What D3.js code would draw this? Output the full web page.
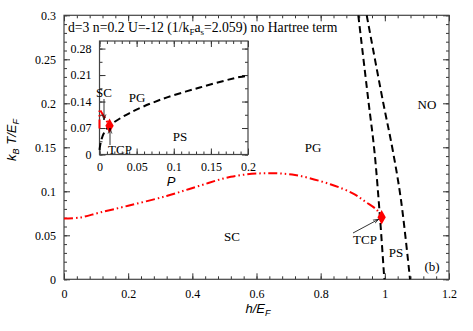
<!DOCTYPE html>
<html>
<head>
<meta charset="utf-8">
<script src="https://cdn.jsdelivr.net/npm/d3@7"></script>
<style>
  body { margin: 0; background: #fff; }
</style>
</head>
<body>
<div id="chart"></div>
<script>
// main panel: T_c(h) of the superfluid (red) and the PS borders (black dashed)
const tcH = [0, 0.05, 0.11, 0.2, 0.32, 0.42, 0.52, 0.62, 0.72, 0.83, 0.9, 0.94, 0.975, 0.99];
const tcT = [0.069, 0.0702, 0.0757, 0.0836, 0.0947, 0.106, 0.1165, 0.1205, 0.1185, 0.108, 0.0977, 0.088, 0.0788, 0.0705];
const psLeftH = [0.9173, 0.9485, 0.9672, 0.9843, 0.9984];
const psLeftT = [0.3, 0.2036, 0.1469, 0.0732, 0];
const psRightH = [0.9435, 0.9934, 1.0245, 1.0504, 1.0785];
const psRightT = [0.3, 0.2036, 0.1469, 0.0901, 0];
const tcp = [0.99, 0.0705];

// inset: T vs polarisation P
const insP = [0, 0.002, 0.006, 0.0135, 0.04, 0.081, 0.135, 0.189, 0.2];
const insT = [0.012, 0.035, 0.057, 0.076, 0.109, 0.144, 0.177, 0.205, 0.208];
const insRedP = [0, 0, 0.0135];
const insRedT = [0.069, 0.12, 0.076];
const insTcp = [0.0135, 0.076];

const xMajor = [0, 0.2, 0.4, 0.6, 0.8, 1, 1.2];
const yMajor = [0, 0.05, 0.1, 0.15, 0.2, 0.25, 0.3];
const insXMajor = [0, 0.05, 0.1, 0.15, 0.2];
const insYMajor = [0, 0.07, 0.14, 0.21, 0.28];

const SERIF = "Liberation Serif, Times New Roman, serif";
const SANS = "Liberation Sans, Arial, sans-serif";

const W = 473, H = 331;
const svg = d3.select("#chart").append("svg").attr("width", W).attr("height", H);

const x = d3.scaleLinear().domain([0, 1.2]).range([64, 449]);
const y = d3.scaleLinear().domain([0, 0.3]).range([279.3, 15.3]);

const fmt = d => String(+d.toFixed(3));
const range = (a, b, s) => d3.range(Math.round((b - a) / s) + 1).map(i => a + i * s);

function frame(g, xs, ys, xMaj, xMin, yMaj, yMin, xPad, yPad) {
    const [x0, x1] = xs.range(), [y0, y1] = ys.range();
    g.append("g").attr("transform", "translate(0," + y0 + ")")
        .call(d3.axisBottom(xs).tickValues(xMin).tickSize(-3).tickFormat(""));
    g.append("g").attr("transform", "translate(0," + y0 + ")")
        .call(d3.axisBottom(xs).tickValues(xMaj).tickSize(-6).tickPadding(xPad).tickFormat(fmt));
    g.append("g").attr("transform", "translate(0," + y1 + ")")
        .call(d3.axisTop(xs).tickValues(xMin).tickSize(-3).tickFormat(""));
    g.append("g").attr("transform", "translate(0," + y1 + ")")
        .call(d3.axisTop(xs).tickValues(xMaj).tickSize(-6).tickFormat(""));
    g.append("g").attr("transform", "translate(" + x0 + ",0)")
        .call(d3.axisLeft(ys).tickValues(yMin).tickSize(-3).tickFormat(""));
    g.append("g").attr("transform", "translate(" + x0 + ",0)")
        .call(d3.axisLeft(ys).tickValues(yMaj).tickSize(-6).tickPadding(yPad).tickFormat(fmt));
    g.append("g").attr("transform", "translate(" + x1 + ",0)")
        .call(d3.axisRight(ys).tickValues(yMin).tickSize(-3).tickFormat(""));
    g.append("g").attr("transform", "translate(" + x1 + ",0)")
        .call(d3.axisRight(ys).tickValues(yMaj).tickSize(-6).tickFormat(""));
    g.selectAll(".domain").remove();
    g.selectAll(".tick line").attr("stroke", "#333");
    g.selectAll(".tick text").attr("font-family", SERIF).attr("font-size", 12).attr("fill", "#000");
    g.append("rect").attr("x", x0).attr("y", y1).attr("width", x1 - x0).attr("height", y0 - y1)
        .attr("fill", "none").attr("stroke", "#444").attr("stroke-width", 1.2);
}

const main = svg.append("g");
frame(main, x, y, xMajor, range(0, 1.2, 0.04), yMajor, range(0, 0.3, 0.01), 10, 8);

const line = (xs, ys, curve) => d3.line().x(d => xs(d[0])).y(d => ys(d[1])).curve(curve);
const zip = (a, b) => a.map((v, i) => [v, b[i]]);

main.append("path").attr("d", line(x, y, d3.curveCatmullRom)(zip(tcH, tcT)))
    .attr("fill", "none").attr("stroke", "#f00").attr("stroke-width", 2)
    .attr("stroke-dasharray", "9,3,1.5,3,1.5,3");
[[psLeftH, psLeftT], [psRightH, psRightT]].forEach(([h, t]) => {
    main.append("path").attr("d", line(x, y, d3.curveCatmullRom)(zip(h, t)))
        .attr("fill", "none").attr("stroke", "#000").attr("stroke-width", 2)
        .attr("stroke-dasharray", "7,4");
});

svg.append("defs").append("marker").attr("id", "ah")
    .attr("viewBox", "0 0 10 10").attr("refX", 10).attr("refY", 5)
    .attr("markerWidth", 7).attr("markerHeight", 7).attr("orient", "auto")
    .append("path").attr("d", "M0,1.5L10,5L0,8.5").attr("fill", "none").attr("stroke", "#000").attr("stroke-width", 1.2);

const star = d3.symbol().type(d3.symbolDiamond).size(60);
main.append("path").attr("d", star()).attr("fill", "#f00")
    .attr("transform", "translate(" + x(tcp[0]) + "," + y(tcp[1]) + ")");
main.append("line").attr("x1", 353).attr("y1", 233).attr("x2", x(tcp[0]) - 3).attr("y2", y(tcp[1]) + 2)
    .attr("stroke", "#000").attr("stroke-width", 0.8).attr("marker-end", "url(#ah)");

const txt = (g, s, px, py, anchor) => g.append("text").attr("x", px).attr("y", py)
    .attr("font-family", SERIF).attr("font-size", 13)
    .attr("text-anchor", anchor || "middle").text(s);
txt(main, "NO", 427, 109);
txt(main, "PG", 313, 152);
txt(main, "SC", 232, 241);
txt(main, "TCP", 365, 244);
txt(main, "PS", 396, 257);
txt(main, "(b)", 432, 271);

const title = main.append("text").attr("x", 68).attr("y", 32)
    .attr("font-family", SERIF).attr("font-size", 13);
title.append("tspan").text("d=3 n=0.2 U=-12 (1/k");
title.append("tspan").attr("font-size", 9).attr("dy", 3).text("F");
title.append("tspan").attr("dy", -3).text("a");
title.append("tspan").attr("font-size", 9).attr("dy", 3).text("s");
title.append("tspan").attr("dy", -3).text("=2.059) no Hartree term");
// scale title so it spans the same width as in the figure
const tw = title.node().getComputedTextLength();
if (tw > 0) title.attr("font-size", Math.min(14.5, 13 * 270 / tw));

const xl = main.append("text").attr("x", 258).attr("y", 313).attr("text-anchor", "middle")
    .attr("font-family", SANS).attr("font-style", "italic").attr("font-size", 13);
xl.append("tspan").text("h/E");
xl.append("tspan").attr("font-size", 9).attr("dy", 3).text("F");
const yl = main.append("text").attr("transform", "translate(16,140) rotate(-90)").attr("text-anchor", "middle")
    .attr("font-family", SANS).attr("font-style", "italic").attr("font-size", 13);
yl.append("tspan").text("k");
yl.append("tspan").attr("font-size", 9).attr("dy", 3).text("B");
yl.append("tspan").attr("dy", -3).text(" T/E");
yl.append("tspan").attr("font-size", 9).attr("dy", 3).text("F");

// inset
const xi = d3.scaleLinear().domain([0, 0.2]).range([99.5, 248]);
const yi = d3.scaleLinear().domain([0, 0.3]).range([154.5, 41]);
const ins = svg.append("g");
ins.append("rect").attr("x", 99.5).attr("y", 41).attr("width", 148.5).attr("height", 113.5).attr("fill", "#fff");
frame(ins, xi, yi, insXMajor, range(0, 0.2, 0.01), insYMajor, range(0, 0.28, 0.035), 8, 8);

ins.append("path").attr("d", line(xi, yi, d3.curveLinear)(zip(insRedP, insRedT)))
    .attr("fill", "none").attr("stroke", "#f00").attr("stroke-width", 2)
    .attr("stroke-dasharray", "9,3,1.5,3,1.5,3");
ins.append("path").attr("d", line(xi, yi, d3.curveCatmullRom)(zip(insP, insT)))
    .attr("fill", "none").attr("stroke", "#000").attr("stroke-width", 2)
    .attr("stroke-dasharray", "7,4");
ins.append("path").attr("d", star()).attr("fill", "#f00")
    .attr("transform", "translate(" + xi(insTcp[0]) + "," + yi(insTcp[1]) + ")");

txt(ins, "SC", 104, 97);
txt(ins, "PG", 137, 102);
txt(ins, "PS", 180, 141);
txt(ins, "TCP", 120, 154);
ins.append("line").attr("x1", 104).attr("y1", 99).attr("x2", 104).attr("y2", 120)
    .attr("stroke", "#000").attr("stroke-width", 0.8).attr("marker-end", "url(#ah)");
ins.append("line").attr("x1", 110).attr("y1", 145).attr("x2", 110).attr("y2", 128)
    .attr("stroke", "#000").attr("stroke-width", 0.8).attr("marker-end", "url(#ah)");
ins.append("text").attr("x", 171).attr("y", 186).attr("text-anchor", "middle")
    .attr("font-family", SANS).attr("font-style", "italic").attr("font-size", 13).text("P");
</script>
</body>
</html>
